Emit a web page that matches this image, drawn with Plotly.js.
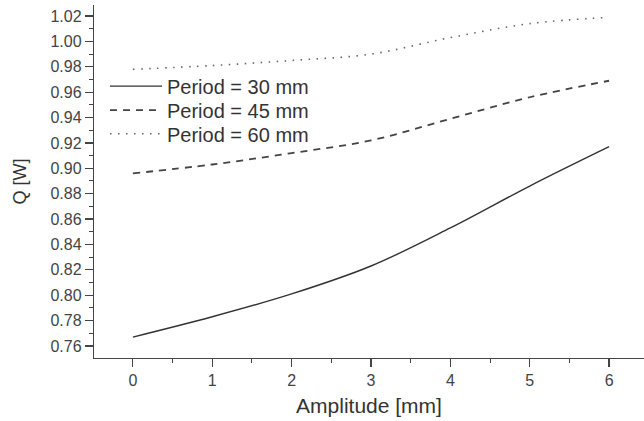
<!DOCTYPE html>
<html>
<head>
<meta charset="utf-8">
<script src="https://cdn.plot.ly/plotly-3.0.1.min.js"></script>
<style>html,body{margin:0;padding:0;background:#fff;}#chart{width:644px;height:421px;}</style>
</head>
<body>
<div id="chart"></div>
<script>
const amplitude = [0, 1, 2, 3, 4, 5, 6];
const q30 = [0.767, 0.783, 0.801, 0.823, 0.853, 0.886, 0.917];
const q45 = [0.896, 0.903, 0.912, 0.922, 0.939, 0.956, 0.969];
const q60 = [0.978, 0.981, 0.985, 0.990, 1.003, 1.014, 1.019];
const seriesNames = ['Period = 30 mm', 'Period = 45 mm', 'Period = 60 mm'];

const font = 'Arial, "Liberation Sans", sans-serif';
const traces = [
  {x: amplitude, y: q30, name: seriesNames[0], mode: 'lines', legend: 'legend',
   line: {color: '#333', width: 1.4, shape: 'spline', dash: 'solid'}},
  {x: amplitude, y: q45, name: seriesNames[1], mode: 'lines', legend: 'legend2',
   line: {color: '#444', width: 1.8, shape: 'spline', dash: '7px,6px'}},
  {x: amplitude, y: q60, name: seriesNames[2], mode: 'lines', legend: 'legend3',
   line: {color: '#666', width: 1.6, shape: 'spline', dash: '1.5px,6.5px'}}
];

function leg(y) {
  return {x: 0.02, y: y, xanchor: 'left', yanchor: 'top',
          bgcolor: 'rgba(0,0,0,0)', font: {family: font, size: 20, color: '#333'},
          itemwidth: 52, tracegroupgap: 0};
}

const layout = {
  width: 644, height: 421,
  margin: {l: 94, r: 0, t: 5, b: 63},
  paper_bgcolor: '#fff', plot_bgcolor: '#fff',
  font: {family: font, color: '#333'},
  showlegend: true,
  legend: leg(0.8254),
  legend2: leg(0.7574),
  legend3: leg(0.6905),
  xaxis: {
    range: [-0.49, 6.44], dtick: 1, tick0: 0,
    showgrid: false, zeroline: false,
    showline: true, linecolor: '#444', linewidth: 1.2,
    ticks: 'outside', ticklen: 8, tickwidth: 1.2, tickcolor: '#444',
    minor: {dtick: 0.5, tick0: 0, ticks: 'outside', ticklen: 4, tickwidth: 1, tickcolor: '#444', showgrid: false},
    tickfont: {family: font, size: 16, color: '#444'},
    title: {text: 'Amplitude [mm]', font: {family: font, size: 21, color: '#333'}, standoff: 9}
  },
  yaxis: {
    range: [0.7505, 1.0287], dtick: 0.02, tick0: 0.76, tickformat: '.2f',
    showgrid: false, zeroline: false,
    showline: true, linecolor: '#444', linewidth: 1.2,
    ticks: 'outside', ticklen: 8, tickwidth: 1.2, tickcolor: '#444',
    minor: {dtick: 0.01, tick0: 0.76, ticks: 'outside', ticklen: 4, tickwidth: 1, tickcolor: '#444', showgrid: false},
    tickfont: {family: font, size: 16, color: '#444'},
    title: {text: 'Q [W]', font: {family: font, size: 18, color: '#333'}, standoff: 19}
  }
};

Plotly.newPlot('chart', traces, layout, {displayModeBar: false, staticPlot: true});
</script>
</body>
</html>
